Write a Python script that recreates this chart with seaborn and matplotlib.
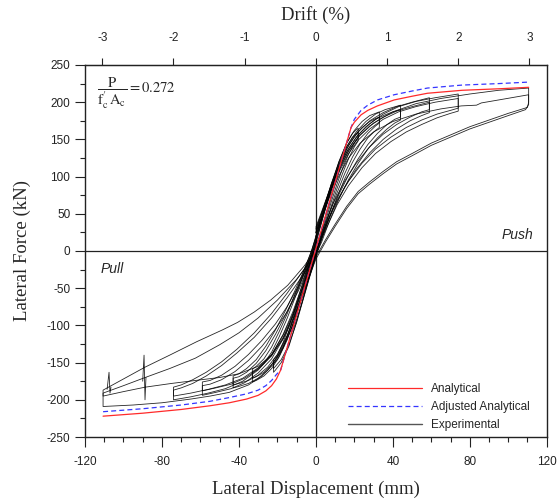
import pandas as pd
import matplotlib
matplotlib.use('Agg')
import matplotlib.pyplot as plt
import seaborn as sns
from matplotlib.ticker import MultipleLocator
from matplotlib.lines import Line2D

sns.set_style('ticks')
plt.rcParams['font.family'] = ['Liberation Sans', 'DejaVu Sans']
plt.rcParams['mathtext.fontset'] = 'stix'
plt.rcParams['axes.unicode_minus'] = False

# analytical envelope (red) and adjusted analytical envelope (blue dashed)
env_x = [-110.6, -90, -70, -55, -45, -36, -30, -26, -23, -20.5, -18.3,
         18.3, 20, 23.5, 27, 32, 40.7, 50, 58, 76, 95, 110.6]
env_y = [-222, -218, -213, -208, -204, -199, -194, -188, -181, -172, -160,
         166, 173, 183, 189, 195, 203, 208, 212, 216, 218, 220]
adj_x = [-110.6, -90, -70, -55, -45, -36, -30, -26, -23, -20.5, -18.3,
         18.3, 20, 23.5, 27, 32, 40.7, 50, 58, 76, 95, 110.6]
adj_y = [-216, -212, -207, -202, -197, -192, -187, -181, -174, -166, -160,
         166, 177, 189, 196, 203, 210, 215, 219, 223, 225, 227]

# experimental cycles (two per drift level)
c12_x = [0, 4, 8, 11, 13, 12, 9, 5, 2, 0, -3, -7, -11, -13, -12, -9, -5, -2, 0]
c12_y = [12, 48, 82, 105, 116, 106, 80, 45, 15, -5, -32, -68, -100, -112, -102, -76, -42, -12, 12]

c22a_x = [0, 4, 8, 12, 16, 19, 21, 22, 22, 20, 17, 14, 11, 8, 5, 2, 0,
          -3, -6, -10, -14, -18, -21, -22, -22, -20, -17, -14, -11, -8, -5, -2, 0]
c22a_y = [15, 52, 88, 120, 145, 158, 163, 165, 152, 145, 130, 112, 90, 66, 40, 12, -5,
          -30, -58, -95, -128, -150, -160, -163, -151, -146, -130, -108, -84, -59, -32, -5, 15]
c22b_x = c22a_x
c22b_y = [10, 48, 84, 116, 140, 153, 158, 160, 148, 140, 124, 105, 84, 60, 35, 8, -8,
          -33, -60, -96, -126, -146, -155, -158, -146, -140, -123, -101, -78, -53, -27, 0, 18]

c33a_x = [0, 4, 8, 12, 16, 20, 24, 28, 31, 33, 33, 31, 27, 23, 19, 15, 11, 7, 3, 0,
          -3, -7, -11, -15, -19, -23, -27, -31, -33, -33, -31, -27, -23, -19, -15, -11, -7, -3, 0]
c33a_y = [20, 55, 90, 120, 145, 162, 174, 182, 185, 187, 172, 168, 158, 144, 126, 104, 78, 50, 20, -2,
          -25, -58, -92, -120, -142, -158, -168, -174, -176, -163, -160, -151, -136, -115, -91, -64, -36, -8, 12]
c33b_x = c33a_x
c33b_y = [15, 50, 84, 113, 137, 154, 166, 174, 178, 180, 166, 162, 152, 137, 119, 97, 72, 45, 15, -5,
          -28, -60, -92, -118, -138, -153, -163, -169, -171, -159, -155, -145, -129, -108, -85, -59, -32, -5, 18]

c44a_x = [0, 4, 8, 12, 16, 21, 26, 31, 36, 40, 44, 44, 41, 37, 32, 27, 22, 17, 12, 7, 3, 0,
          -3, -7, -11, -15, -20, -25, -30, -35, -40, -43, -43, -40, -36, -31, -26, -21, -16, -11, -6, -2, 0]
c44a_y = [25, 58, 90, 118, 140, 160, 174, 184, 190, 193, 196, 180, 177, 170, 158, 143, 124, 102, 76, 46, 18, 0,
          -22, -55, -87, -115, -142, -160, -171, -178, -182, -184, -171, -169, -163, -151, -134, -112, -87, -60, -31, -5, 15]
c44b_x = c44a_x
c44b_y = [18, 52, 84, 111, 133, 153, 167, 177, 183, 187, 190, 176, 172, 164, 152, 137, 118, 96, 70, 40, 12, -5,
          -28, -58, -88, -114, -139, -156, -167, -174, -178, -180, -168, -165, -158, -146, -128, -106, -81, -54, -25, 2, 20]

c59a_x = [0, 4, 8, 12, 17, 22, 28, 35, 42, 50, 59, 59, 55, 49, 42, 35, 28, 21, 15, 9, 4, 0,
          -3, -7, -12, -17, -23, -30, -37, -44, -52, -59, -59, -55, -49, -42, -35, -28, -21, -15, -9, -4, 0]
c59a_y = [28, 58, 88, 115, 142, 160, 175, 186, 194, 200, 206, 190, 187, 180, 170, 157, 140, 118, 94, 64, 32, 8,
          -18, -50, -88, -118, -145, -164, -177, -185, -190, -194, -181, -179, -173, -162, -147, -128, -105, -82, -53, -22, 5]
c59b_x = c59a_x
c59b_y = [20, 52, 82, 108, 134, 153, 168, 180, 188, 194, 200, 186, 182, 175, 164, 150, 132, 110, 86, 56, 25, 2,
          -22, -52, -88, -116, -141, -159, -171, -179, -184, -188, -176, -174, -167, -155, -139, -120, -98, -75, -47, -16, 10]

c74a_x = [0, 4, 8, 12, 17, 22, 28, 35, 43, 52, 62, 74, 74, 70, 63, 55, 47, 39, 31, 24, 17, 11, 5, 0,
          -3, -7, -12, -17, -23, -30, -38, -47, -56, -65, -74, -74, -70, -64, -57, -49, -41, -32, -23, -15, -6, 0]
c74a_y = [32, 60, 88, 113, 138, 156, 171, 184, 194, 201, 206, 211, 192, 189, 184, 176, 166, 153, 137, 118, 94, 68, 34, 6,
          -15, -46, -82, -112, -140, -160, -175, -185, -191, -196, -200, -187, -184, -178, -168, -154, -137, -116, -90, -63, -30, -5]
c74b_x = c74a_x
c74b_y = [24, 54, 82, 106, 131, 149, 164, 177, 187, 194, 200, 205, 188, 185, 179, 170, 160, 147, 131, 112, 88, 62, 28, 0,
          -20, -50, -85, -113, -139, -157, -171, -180, -186, -191, -195, -183, -180, -173, -163, -149, -132, -110, -84, -57, -24, 2]

c110a_x = [0, 4, 8, 12, 17, 23, 30, 40, 52, 65, 80, 95, 110.6,
           110.6, 110, 100, 90, 80, 70, 60, 50, 42, 35, 28, 22, 16, 10, 5, 0,
           -3, -7, -12, -17, -22, -28, -35, -45, -55, -65, -80, -95, -110.6,
           -110.6, -100, -88.7, -76, -62, -48.5, -40.7, -32, -23.5, -14.6, -6, 0]
c110a_y = [30, 58, 85, 110, 135, 156, 172, 187, 198, 205, 211, 216, 219,
           200, 193, 185, 176, 167, 156, 145, 131, 120, 107, 93, 80, 60, 36, 15, -8,
           -30, -62, -100, -130, -152, -168, -180, -190, -195, -199, -204, -207, -209,
           -187, -172, -156, -140, -122, -106, -96, -82, -66, -46, -20, 2]
c110b_x = [0, 4, 8, 12, 17, 23, 30, 40, 52, 65, 75.6, 83.5, 86, 95, 110.6,
           110.6, 109, 100, 90, 80, 70, 60, 50, 42, 35, 28, 22, 16, 10, 5, 0,
           -3, -7, -12, -17, -23, -30, -40, -50, -62.6, -75, -88.7, -100, -110.6,
           -110.6, -100, -88.7, -76, -62.6, -50, -40, -30, -20, -10, 0]
c110b_y = [25, 52, 78, 101, 125, 145, 160, 174, 184, 191, 195, 196, 199, 203, 210,
           197, 190, 182, 173, 164, 153, 142, 128, 117, 104, 90, 77, 57, 33, 12, -11,
           -32, -60, -92, -118, -140, -155, -165, -170, -174, -178, -183, -189, -195,
           -191, -181, -170, -158, -144, -126, -110, -90, -66, -38, -5]

spike1_x = [-108.5, -107.5, -107, -106.5]
spike1_y = [-186, -163, -191, -183]
spike2_x = [-90, -89.3, -88.8, -88.3]
spike2_y = [-175, -140, -200, -170]

cycles = [(c12_x, c12_y), (c22a_x, c22a_y), (c22b_x, c22b_y), (c33a_x, c33a_y), (c33b_x, c33b_y),
          (c44a_x, c44a_y), (c44b_x, c44b_y), (c59a_x, c59a_y), (c59b_x, c59b_y),
          (c74a_x, c74a_y), (c74b_x, c74b_y), (c110a_x, c110a_y), (c110b_x, c110b_y),
          (spike1_x, spike1_y), (spike2_x, spike2_y)]

rows = []
for i, (cx, cy) in enumerate(cycles):
    for k, (a, b) in enumerate(zip(cx, cy)):
        rows.append({'disp': a, 'force': b, 'cycle': i, 'order': k})
df = pd.DataFrame(rows)

fig = plt.figure(figsize=(5.58, 5.03), dpi=100)
ax = fig.add_axes([0.1523, 0.1312, 0.8275, 0.7396])

ax.axhline(0, color='#222222', lw=0.9, zorder=1)
ax.axvline(0, color='#222222', lw=0.9, zorder=1)

sns.lineplot(data=df, x='disp', y='force', units='cycle', estimator=None, sort=False,
             color='black', lw=0.6, alpha=0.85, ax=ax, legend=False, zorder=2)
sns.lineplot(x=adj_x, y=adj_y, sort=False, color='#3535ff', lw=0.9, linestyle=(0, (4, 2.5)),
             ax=ax, zorder=3)
sns.lineplot(x=env_x, y=env_y, sort=False, color='#ff2a2a', lw=0.9, ax=ax, zorder=4)

ax.set_xlim(-120, 120)
ax.set_ylim(-250, 250)
ax.xaxis.set_major_locator(MultipleLocator(40))
ax.xaxis.set_minor_locator(MultipleLocator(10))
ax.yaxis.set_major_locator(MultipleLocator(50))
ax.yaxis.set_minor_locator(MultipleLocator(25))
ax.tick_params(which='major', direction='out', length=7, width=0.8, labelsize=8.5, colors='#222222')
ax.tick_params(axis='x', which='major', pad=7)
ax.tick_params(which='minor', direction='out', length=3.5, width=0.8, colors='#222222')
for s in ax.spines.values():
    s.set_linewidth(1.0)
    s.set_color('#222222')

ax.set_xlabel('Lateral Displacement (mm)', family='Liberation Serif', fontsize=13.5, labelpad=9)
ax.set_ylabel('Lateral Force (kN)', family='Liberation Serif', fontsize=13.5, labelpad=11)

sec = ax.secondary_xaxis('top', functions=(lambda x: x / 37.0, lambda d: d * 37.0))
sec.set_xticks([-3, -2, -1, 0, 1, 2, 3])
sec.tick_params(direction='out', length=5, width=0.8, labelsize=8.5, colors='#222222', pad=10)
sec.set_xlabel('Drift (%)', family='Liberation Serif', fontsize=13.5, labelpad=9)

ax.text(96.7, 21.5, 'Push', style='italic', fontsize=10, ha='left', va='center')
ax.text(-111.8, -24, 'Pull', style='italic', fontsize=10, ha='left', va='center')
ax.text(-114, 212,
        r"$\dfrac{\mathrm{P}}{\mathrm{f}^{\prime}_{\mathrm{c}}\,\mathrm{A}_{\mathrm{c}}}=0.272$",
        fontsize=10.5, ha='left', va='center')

handles = [Line2D([], [], color='#ff2a2a', lw=0.9),
           Line2D([], [], color='#3535ff', lw=0.9, linestyle=(0, (4, 2.5))),
           Line2D([], [], color='#555555', lw=1.0)]
ax.legend(handles, ['Analytical', 'Adjusted Analytical', 'Experimental'],
          loc='center left', bbox_to_anchor=(0.5696, 0.0806), frameon=False,
          fontsize=8.5, handlelength=6.3, handletextpad=0.7, labelspacing=0.5,
          borderpad=0, borderaxespad=0)

fig.savefig('out.png', dpi=100)
